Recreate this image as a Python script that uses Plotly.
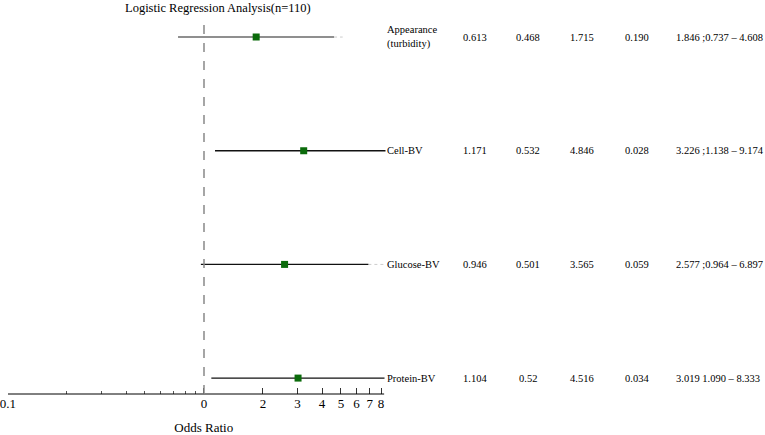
import plotly.graph_objects as go

labels = ["Appearance<br>(turbidity)", "Cell-BV", "Glucose-BV", "Protein-BV"]
beta = ["0.613", "1.171", "0.946", "1.104"]
se = ["0.468", "0.532", "0.501", "0.52"]
wald = ["1.715", "4.846", "3.565", "4.516"]
pval = ["0.190", "0.028", "0.059", "0.034"]
or_val = [1.846, 3.226, 2.577, 3.019]
ci_lo = [0.737, 1.138, 0.964, 1.090]
ci_hi = [4.608, 9.174, 6.897, 8.333]
ci_text = ["1.846 ;0.737 – 4.608", "3.226 ;1.138 – 9.174",
           "2.577 ;0.964 – 6.897", "3.019 1.090 – 8.333"]
connector_end = [5.1, 8.3, 8.3, 8.3]
tick_vals = [0.1, 1, 2, 3, 4, 5, 6, 7, 8]
tick_text = ["0.1", "0", "2", "3", "4", "5", "6", "7", "8"]
minor_vals = [0.2, 0.3, 0.4, 0.5, 0.6, 0.7, 0.8, 0.9]

W, H = 765, 435
rows = [4, 3, 2, 1]
FONT = "Liberation Serif"

fig = go.Figure()
line_colors = ["#6a6a6a", "#111111", "#111111", "#111111"]

for i, r in enumerate(rows):
    fig.add_trace(go.Scatter(x=[ci_hi[i], connector_end[i]], y=[r, r], mode="lines",
                             line=dict(color="#cccccc", width=1, dash="dot"),
                             hoverinfo="skip", showlegend=False))
    fig.add_trace(go.Scatter(x=[ci_lo[i], ci_hi[i]], y=[r, r], mode="lines",
                             line=dict(color=line_colors[i], width=1.4),
                             hoverinfo="skip", showlegend=False))

fig.add_trace(go.Scatter(x=or_val, y=rows, mode="markers",
                         marker=dict(symbol="square", size=7, color="#0b6b0b"),
                         showlegend=False))

lo_edge = -1.002
x0 = 8 / W + (lo_edge + 1) * 196 / W
x1 = 400 / W
fig.update_layout(
    width=W, height=H,
    margin=dict(l=0, r=0, t=0, b=0),
    paper_bgcolor="white", plot_bgcolor="white",
    font=dict(family=FONT, size=11, color="black"),
    xaxis=dict(type="log", domain=[x0, x1], range=[lo_edge, 1], automargin=False,
               showgrid=False, zeroline=False, showline=False,
               ticklabeloverflow="allow",
               tickmode="array", tickvals=tick_vals, ticktext=tick_text,
               ticks="inside", ticklen=6, tickcolor="#333", tickwidth=1,
               tickfont=dict(size=13, family=FONT),
               minor=dict(tickmode="array", tickvals=minor_vals, ticks="inside",
                          ticklen=3, tickcolor="#555", showgrid=False),
               title=dict(text="Odds Ratio", font=dict(size=13, family=FONT), standoff=14)),
    yaxis=dict(domain=[(H - 394) / H, (H - 20) / H], range=[0.86, 4.15], automargin=False,
               showgrid=False, zeroline=False, showline=False,
               showticklabels=False, ticks=""),
)

fig.add_shape(type="line", xref="x", yref="paper", x0=0.1, x1=8.3,
              y0=(H - 394) / H, y1=(H - 394) / H, line=dict(color="black", width=1))
fig.add_shape(type="line", xref="x", yref="y", x0=1, x1=1, y0=0.86, y1=4.15,
              line=dict(color="#888888", width=1.5, dash="dash"))

fig.add_annotation(text="Logistic Regression Analysis(n=110)", xref="paper", yref="paper",
                   x=218 / W, y=(H - 8) / H, showarrow=False, xanchor="center", yanchor="middle",
                   font=dict(size=12.5, family=FONT))

cols = [(475, beta), (528, se), (582, wald), (637, pval)]
for i, r in enumerate(rows):
    fig.add_annotation(text=labels[i], xref="paper", yref="y", x=385 / W, y=r,
                       showarrow=False, xanchor="left", yanchor="middle", align="left",
                       bgcolor="white", borderpad=1, font=dict(size=10.5, family=FONT))
    for cx, arr in cols:
        fig.add_annotation(text=arr[i], xref="paper", yref="y", x=cx / W, y=r,
                           showarrow=False, xanchor="center", yanchor="middle",
                           font=dict(size=10.5, family=FONT))
    fig.add_annotation(text=ci_text[i], xref="paper", yref="y", x=674 / W, y=r,
                       showarrow=False, xanchor="left", yanchor="middle",
                       font=dict(size=10.5, family=FONT))

fig.write_html("out.html")
